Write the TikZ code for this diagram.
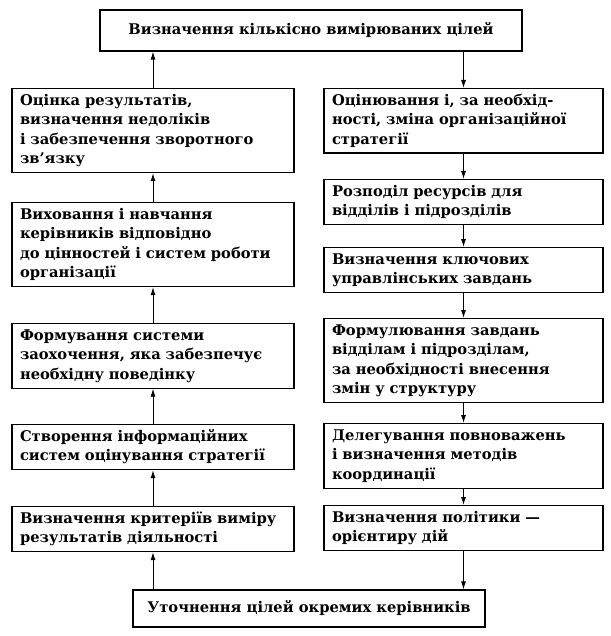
\documentclass[tikz,border=0pt]{standalone}
\usepackage{fontspec}
\setmainfont{DejaVu Serif}
\usetikzlibrary{arrows.meta}

\begin{document}
\begin{tikzpicture}[x=1pt,y=-1pt,
		stage/.style={draw, line width=1.2pt, anchor=north, align=left,
			inner xsep=8pt, inner ysep=3pt,
			font=\bfseries\fontsize{14.7}{19.5}\selectfont,
			execute at begin node=\strut, execute at end node=\strut},
		lstage/.style={stage, text width=266pt},
		rstage/.style={stage, text width=263pt},
		goal/.style={draw, line width=1.2pt, align=center, inner sep=0pt,
			font=\bfseries\fontsize{14.7}{19.5}\selectfont},
		flow/.style={line width=0.9pt, -{Latex[length=8pt,width=5pt]}}]
	\useasboundingbox (0,0) rectangle (610,636);
	% top and bottom
	\node[goal, minimum width=422pt, minimum height=41pt] (goal) at (311,30.5) {Визначення кількісно вимірюваних цілей};
	\node[goal, minimum width=352pt, minimum height=37pt] (refine) at (309,608.5) {Уточнення цілей окремих керівників};
	% left column
	\node[lstage] (evaluate) at (153,88) {Оцінка результатів,\\визначення недоліків\\і забезпечення зворотного\\зв’язку};
	\node[lstage] (train) at (153,202) {Виховання і навчання\\керівників відповідно\\до цінностей і систем роботи\\організації};
	\node[lstage] (reward) at (153,323) {Формування системи\\заохочення, яка забезпечує\\необхідну поведінку};
	\node[lstage] (info) at (153,424) {Створення інформаційних\\систем оцінування стратегії};
	\node[lstage] (criteria) at (153,506) {Визначення критеріїв виміру\\результатів діяльності};
	% right column
	\node[rstage] (strategy) at (463.5,88) {Оцінювання і, за необхід-\\ності, зміна організаційної\\стратегії};
	\node[rstage] (resources) at (463.5,179) {Розподіл ресурсів для\\відділів і підрозділів};
	\node[rstage] (tasks) at (463.5,247) {Визначення ключових\\управлінських завдань};
	\node[rstage] (units) at (463.5,318) {Формулювання завдань\\відділам і підрозділам,\\за необхідності внесення\\змін у структуру};
	\node[rstage] (delegate) at (463.5,423) {Делегування повноважень\\і визначення методів\\координації};
	\node[rstage] (policy) at (463.5,505) {Визначення політики —\\орієнтиру дій};
	% connectors
	\draw[flow] (goal.south -| strategy.north) -- (strategy.north);
	\draw[flow] (strategy) -- (resources);
	\draw[flow] (resources) -- (tasks);
	\draw[flow] (tasks) -- (units);
	\draw[flow] (units) -- (delegate);
	\draw[flow] (delegate) -- (policy);
	\draw[flow] (policy.south) -- (policy.south |- refine.north);
	\draw[flow] (criteria.south |- refine.north) -- (criteria.south);
	\draw[flow] (criteria) -- (info);
	\draw[flow] (info) -- (reward);
	\draw[flow] (reward) -- (train);
	\draw[flow] (train) -- (evaluate);
	\draw[flow] (evaluate.north) -- (evaluate.north |- goal.south);
\end{tikzpicture}
\end{document}
